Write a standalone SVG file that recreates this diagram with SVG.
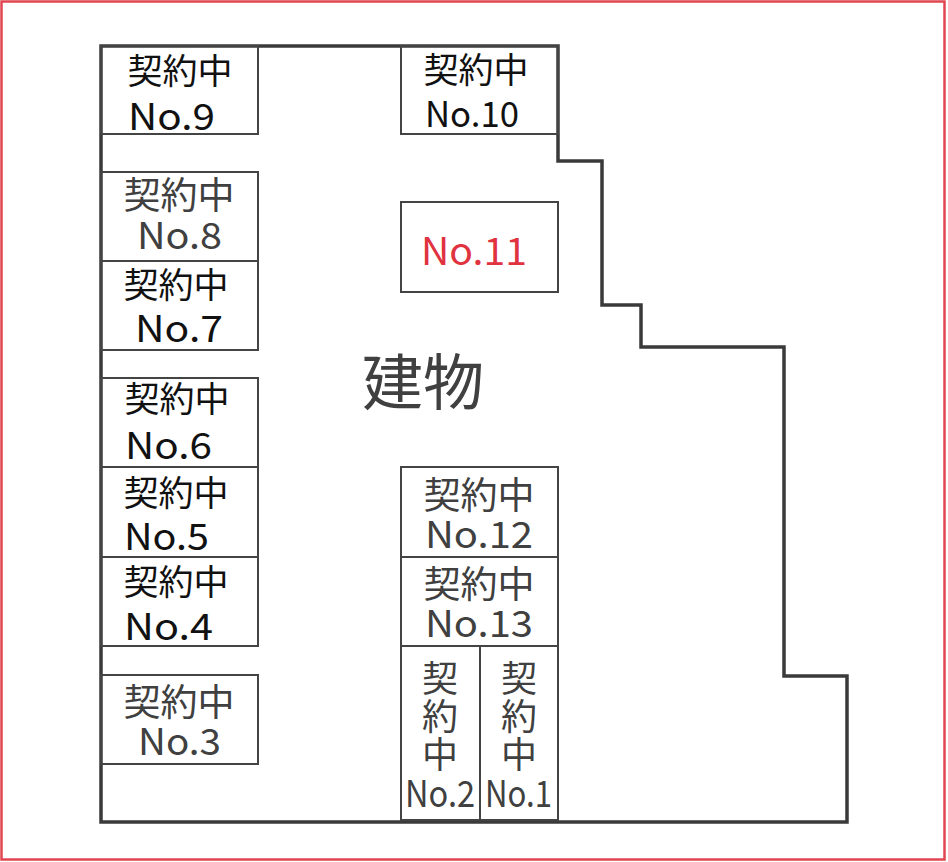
<svg xmlns="http://www.w3.org/2000/svg" width="948" height="862" viewBox="0 0 948 862">
<style>
.bx{fill:none;stroke:#444;stroke-width:2}
.ol{fill:none;stroke:#3a3a3a;stroke-width:3.5;stroke-linejoin:miter}
text{font-family:"Noto Sans CJK JP","Noto Sans",sans-serif}
.k{font-size:35px}
.n{font-size:37px}
.dk{fill:#111}
.gr{fill:#404040}
</style>
<rect x="1.5" y="1.5" width="943" height="858" fill="#fff" stroke="#e04550" stroke-width="2.5"/>
<g id="building">
<path class="ol" d="M101,46 H558 V161 H602 V305 H641 V347 H784 V676 H847 V822 H101 Z"/>
<text x="423" y="405" font-size="61" fill="#404040" text-anchor="middle">建物</text>
</g>
<g id="no9"><rect class="bx" x="101" y="46" width="157" height="88"/>
<text class="k dk" x="180" y="84" text-anchor="middle">契約中</text>
<text class="n dk" x="128" y="130" textLength="87" lengthAdjust="spacingAndGlyphs">No.9</text></g>
<g id="no10"><rect class="bx" x="401" y="46" width="157" height="88"/>
<text class="k dk" x="476" y="83" text-anchor="middle">契約中</text>
<text class="dk" x="425" y="127" font-size="35" textLength="94" lengthAdjust="spacingAndGlyphs">No.10</text></g>
<g id="no8"><rect class="bx" x="101" y="172" width="157" height="89"/>
<text class="gr" x="179" y="209" font-size="37" text-anchor="middle">契約中</text>
<text class="n gr" x="137" y="249" textLength="85" lengthAdjust="spacingAndGlyphs">No.8</text></g>
<g id="no7"><rect class="bx" x="101" y="261" width="157" height="89"/>
<text class="k dk" x="176" y="298" text-anchor="middle">契約中</text>
<text class="n dk" x="135" y="342" textLength="88" lengthAdjust="spacingAndGlyphs">No.7</text></g>
<g id="no6"><rect class="bx" x="101" y="378" width="157" height="89"/>
<text class="k dk" x="177" y="412" text-anchor="middle">契約中</text>
<text class="n dk" x="125" y="459" textLength="87" lengthAdjust="spacingAndGlyphs">No.6</text></g>
<g id="no5"><rect class="bx" x="101" y="467" width="157" height="90"/>
<text class="k dk" x="176" y="506" text-anchor="middle">契約中</text>
<text class="n dk" x="124" y="550" textLength="85" lengthAdjust="spacingAndGlyphs">No.5</text></g>
<g id="no4"><rect class="bx" x="101" y="557" width="157" height="89"/>
<text class="k dk" x="176" y="595" text-anchor="middle">契約中</text>
<text class="n dk" x="124" y="640" textLength="89" lengthAdjust="spacingAndGlyphs">No.4</text></g>
<g id="no3"><rect class="bx" x="101" y="675" width="157" height="89"/>
<text class="gr" x="179" y="716" font-size="37" text-anchor="middle">契約中</text>
<text class="n gr" x="138" y="755" textLength="83" lengthAdjust="spacingAndGlyphs">No.3</text></g>
<g id="no11"><rect class="bx" x="401" y="202" width="157" height="90"/>
<text x="421" y="265" font-size="38" fill="#e0323f" textLength="106" lengthAdjust="spacingAndGlyphs">No.11</text></g>
<g id="no12"><rect class="bx" x="401" y="467" width="157" height="90"/>
<text class="gr" x="479" y="509" font-size="37" text-anchor="middle">契約中</text>
<text class="n gr" x="425" y="548" textLength="108" lengthAdjust="spacingAndGlyphs">No.12</text></g>
<g id="no13"><rect class="bx" x="401" y="557" width="157" height="89"/>
<text class="gr" x="479" y="598" font-size="37" text-anchor="middle">契約中</text>
<text class="n gr" x="425" y="637" textLength="108" lengthAdjust="spacingAndGlyphs">No.13</text></g>
<g id="no2"><rect class="bx" x="401" y="646" width="79" height="174"/>
<text class="gr" font-size="36" text-anchor="middle"><tspan x="440" y="692">契</tspan><tspan x="440" y="730">約</tspan><tspan x="440" y="768">中</tspan></text>
<text class="gr" x="405" y="807" font-size="37" textLength="70" lengthAdjust="spacingAndGlyphs">No.2</text></g>
<g id="no1"><rect class="bx" x="480" y="646" width="78" height="174"/>
<text class="gr" font-size="36" text-anchor="middle"><tspan x="519" y="692">契</tspan><tspan x="519" y="730">約</tspan><tspan x="519" y="768">中</tspan></text>
<text class="gr" x="485" y="807" font-size="37" textLength="67" lengthAdjust="spacingAndGlyphs">No.1</text></g>
</svg>
